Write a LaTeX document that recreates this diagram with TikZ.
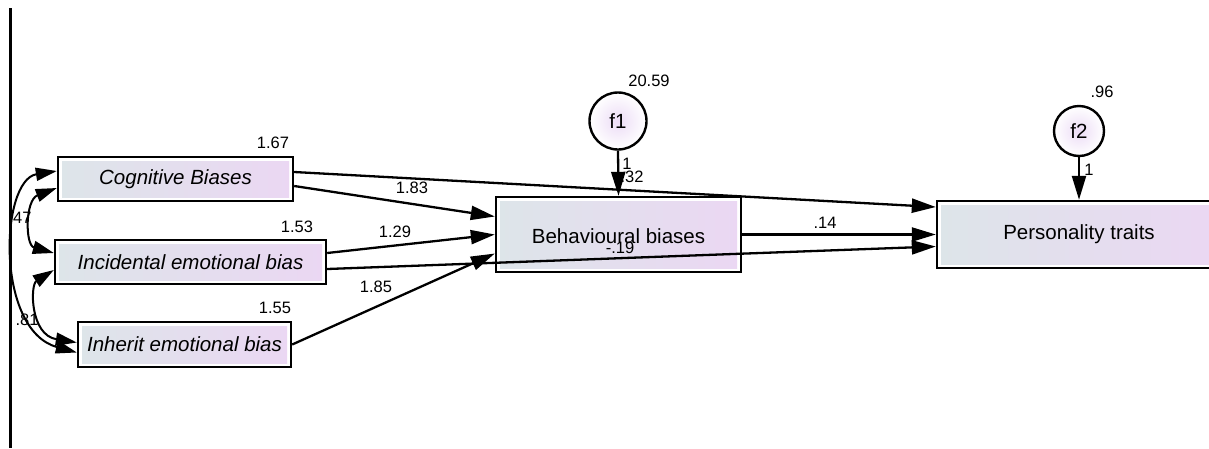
\documentclass[tikz,border=0pt]{standalone}
\usepackage{fontspec}
\setmainfont{Liberation Sans}
\usetikzlibrary{arrows.meta,calc}
\definecolor{boxL}{RGB}{221,229,233}
\definecolor{boxR}{RGB}{235,215,243}
\definecolor{circIn}{RGB}{236,220,246}
\tikzset{
  box/.style={draw=black, line width=2.4pt, fill=white, inner sep=0pt,
    path picture={\shade[left color=boxL,right color=boxR]
      ([shift={(4pt,-4pt)}]path picture bounding box.north west) rectangle
      ([shift={(-4pt,4pt)}]path picture bounding box.south east);}},
  txt/.style={inner sep=0pt, font=\fontsize{20.5}{23}\selectfont},
  circ/.style={circle, draw=black, line width=2.4pt, inner sep=0pt,
    shading=radial, inner color=circIn, outer color=white,
    font=\fontsize{20.5}{23}\selectfont},
  lab/.style={inner sep=0pt, font=\fontsize{16.5}{19}\selectfont},
  tip/.style={-{Triangle[length=24pt,width=14pt]}},
  conn/.style={tip, line width=2.3pt},
  cov/.style={{Triangle[length=21pt,width=13pt]}-{Triangle[length=21pt,width=13pt]}, line width=2pt},
}
\begin{document}
\begin{tikzpicture}[x=1pt,y=-1pt]
\useasboundingbox (0,0) rectangle (1209,448);
\fill[white] (0,0) rectangle (1209,448);
% left frame line
\coordinate (ftop) at (10.5,8);
\coordinate (fbot) at (10.5,448);
\draw[line width=2.4pt] (ftop) -- (fbot);

% boxes
\node[box, minimum width=235pt, minimum height=44pt] (cog) at (175.5,179) {};
\node[box, minimum width=271pt, minimum height=44pt] (inc) at (190.5,262) {};
\node[box, minimum width=213pt, minimum height=45pt] (inh) at (184.5,344.5) {};
\node[box, minimum width=245pt, minimum height=75pt] (beh) at (618.5,234.5) {};
\node[box, minimum width=284pt, minimum height=67pt] (per) at (1079,234.5) {};

% error circles
\node[circ, minimum size=57pt] (f1) at (618,121) {f1};
\node[circ, minimum size=50pt] (f2) at (1079,131) {f2};

% regression paths
\draw[conn] ($(cog.east)+(0,-7)$) -- ($(per.west)+(0,-27.5)$);
\draw[conn] ($(cog.east)+(0,7)$) -- ($(beh.west)+(0,-18)$);
\draw[conn] ($(inc.east)+(0,-9)$) -- (beh.west);
\draw[conn] ($(inc.east)+(0,7)$) -- ($(per.west)+(0,12)$);
\draw[conn] (inh.east) -- ($(beh.west)+(0,19)$);
\draw[conn] (beh.east) -- (per.west);
\draw[conn] (f1.south) -- (beh.north);
\draw[conn] (f2.south) -- (per.north);

% covariances
\draw[cov] ($(cog.west)+(0,-8)$) .. controls (0,180) and (-5,330) .. ($(inh.west)+(0,8)$);
\draw[cov] ($(cog.west)+(0,9)$) .. controls (25,200) and (25,245) .. ($(inc.west)+(0,-9)$);
\draw[cov] ($(inc.west)+(0,8)$) .. controls (30,285) and (30,335) .. ($(inh.west)+(0,-2)$);

% labels
\node[lab] (l167) at (273,143) {1.67};
\node[lab] (l153) at (297,227) {1.53};
\node[lab] (l155) at (275,308) {1.55};
\node[lab] (l2059) at (649,81) {20.59};
\node[lab] (l96) at (1102,92) {.96};
\node[lab] (l183) at (412,188) {1.83};
\node[lab] (l129) at (395,232) {1.29};
\node[lab] (l185) at (376,287) {1.85};
\node[lab] (l14) at (825,223) {.14};
\node[lab] (lf1) at (627,164) {1};
\node[lab] (l32) at (632,177) {.32};
\node[lab] (l19) at (620,248) {-.19};
\node[lab] (lf2) at (1089,170) {1};
\node[lab] (l47) at (20,218) {.47};
\node[lab] (l81) at (27,320) {.81};

% box texts
\node[txt] (cogt) at (cog) {\itshape Cognitive Biases};
\node[txt] (inct) at (inc) {\itshape Incidental emotional bias};
\node[txt] (inht) at (inh) {\itshape Inherit emotional bias};
\node[txt] (beht) at ($(beh)+(0,2)$) {Behavioural biases};
\node[txt] (pert) at (per) {Personality traits};
\end{tikzpicture}
\end{document}
